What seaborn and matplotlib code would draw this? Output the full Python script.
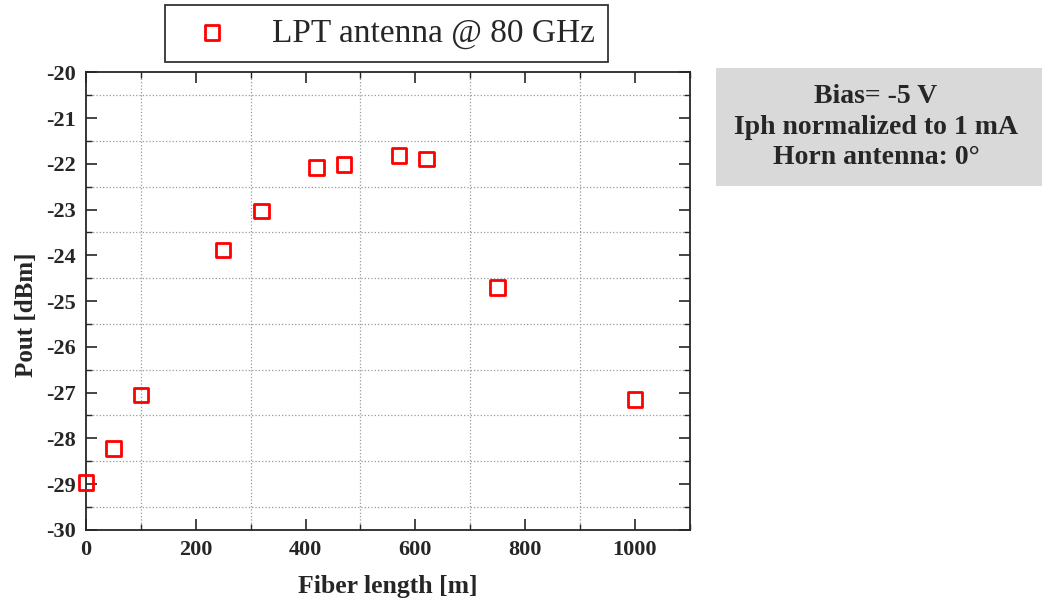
import matplotlib
matplotlib.use("Agg")
import matplotlib.pyplot as plt
import seaborn as sns
import pandas as pd
from matplotlib.ticker import MultipleLocator
from matplotlib.patches import Rectangle

# values
fiber_length = [0, 50, 100, 250, 320, 420, 470, 570, 620, 750, 1000]
pout_dbm = [-28.97, -28.22, -27.05, -23.88, -23.03, -22.08, -22.02, -21.82, -21.9, -24.7, -27.15]
series_label = "LPT antenna @ 80 GHz"
info_text = "Bias= -5 V\nIph normalized to 1 mA\nHorn antenna: 0°"

df = pd.DataFrame({"Fiber length [m]": fiber_length, "Pout [dBm]": pout_dbm})

sns.set_style("ticks")
plt.rcParams["font.family"] = ["Liberation Serif", "DejaVu Serif"]
plt.rcParams["axes.unicode_minus"] = False

fig = plt.figure(figsize=(10.42, 6.07), dpi=100)
ax = fig.add_axes([0.0825, 0.127, 0.5795, 0.754])

sns.scatterplot(data=df, x="Fiber length [m]", y="Pout [dBm]", ax=ax,
                marker="s", s=110, facecolor="none", edgecolor="#ff0000",
                linewidth=2, label=series_label, legend=False, clip_on=False, zorder=5)

ax.set_xlim(0, 1100)
ax.set_ylim(-30, -20)
ax.xaxis.set_major_locator(MultipleLocator(200))
ax.xaxis.set_minor_locator(MultipleLocator(100))
ax.yaxis.set_major_locator(MultipleLocator(1))
ax.yaxis.set_minor_locator(MultipleLocator(0.5))
ax.grid(which="minor", linestyle=":", color="#999999", linewidth=0.9)
ax.grid(which="major", visible=False)
ax.tick_params(which="major", direction="in", length=8, width=1.2, top=True, right=True,
               labelsize=16, pad=7)
ax.tick_params(which="minor", direction="in", length=4, width=1, top=True, right=True)
for sp in ax.spines.values():
    sp.set_linewidth(1.3)
    sp.set_visible(True)
for lab in ax.get_xticklabels() + ax.get_yticklabels():
    lab.set_fontweight("bold")

ax.set_xlabel("Fiber length [m]", fontsize=18.5, fontweight="bold", labelpad=11)
ax.set_ylabel("Pout [dBm]", fontsize=18, fontweight="bold")
ax.yaxis.set_label_coords(-0.08, 0.47)

handles, labels = ax.get_legend_handles_labels()
leg = fig.legend(handles, labels, loc="center", bbox_to_anchor=(0.371, 0.945),
                 fontsize=24, frameon=True, fancybox=False, edgecolor="black",
                 handletextpad=0.8, borderpad=0.4, borderaxespad=0,
                 handlelength=2.0)
leg.get_frame().set_linewidth(1.3)

# grey annotation box on the right
fig.patches.append(Rectangle((716 / 1042, 1 - 186 / 607), 1 - 716 / 1042, 118 / 607,
                             transform=fig.transFigure, facecolor="#d9d9d9",
                             edgecolor="none", zorder=0))
fig.text(876 / 1042, 1 - 127 / 607, info_text, ha="center", va="center", fontsize=20,
         fontweight="bold", linespacing=1.3)

fig.savefig("out.png", dpi=100)
